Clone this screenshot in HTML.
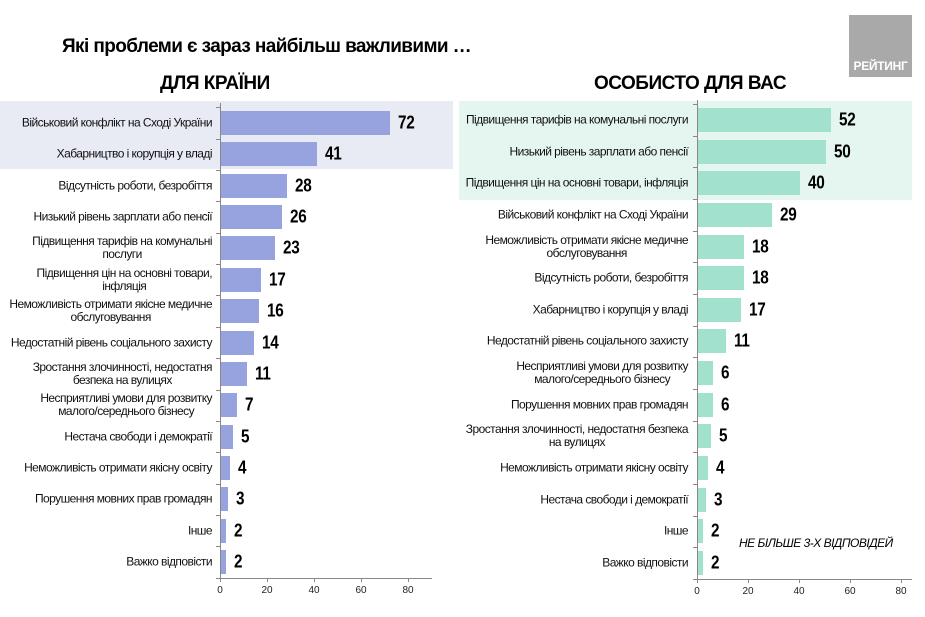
<!DOCTYPE html>
<html><head><meta charset="utf-8"><style>
body{margin:0;width:925px;height:617px;background:#fff;position:relative;overflow:hidden;font-family:"Liberation Sans",sans-serif;}
.a{position:absolute}
.lbl{position:absolute;font-size:12px;letter-spacing:-0.55px;line-height:13px;text-align:center;color:#111;white-space:nowrap;transform:translateY(-50%)}
.val{position:absolute;font-size:18px;font-weight:bold;transform:translateY(-50%) scaleX(0.85);transform-origin:left center;letter-spacing:-0.3px}
.tick{position:absolute;font-size:10px;color:#222;transform:translateX(-50%)}
</style></head><body>
<div class="a" style="left:0;top:101px;width:453px;height:68px;background:#e8eaf4"></div>
<div class="a" style="left:459px;top:101px;width:453px;height:99px;background:#e5f6f0"></div>
<div class="a" style="left:62px;top:36px;font-size:19px;font-weight:bold;letter-spacing:-0.6px">Які проблеми є зараз найбільш важливими …</div>
<div class="a" style="left:160px;top:73px;font-size:19px;font-weight:bold;letter-spacing:-0.5px">ДЛЯ КРАЇНИ</div>
<div class="a" style="left:594px;top:73px;font-size:19px;font-weight:bold;letter-spacing:-0.5px">ОСОБИСТО ДЛЯ ВАС</div>
<div class="a" style="left:849px;top:15px;width:63px;height:62px;background:#a9a9a9"></div>
<div class="a" style="left:849px;width:63px;text-align:center;top:59px;font-size:12px;font-weight:bold;color:#fff;letter-spacing:-0.3px">РЕЙТИНГ</div>
<div class="a" style="left:739px;top:536px;font-size:12px;font-style:italic;letter-spacing:-0.5px">НЕ БІЛЬШЕ 3-Х ВІДПОВІДЕЙ</div>
<div id="c"></div>
<script>
function chart(x0,ppu,y0,dy,color,labelR,axisEnd,data){
 var h='';var n=data.length;
 h+='<div class="a" style="left:'+x0+'px;top:'+(y0-dy/2-4)+'px;width:1px;height:'+(n*dy+4)+'px;background:#888"></div>';
 var axY=y0+(n-0.5)*dy;
 h+='<div class="a" style="left:'+x0+'px;top:'+axY+'px;width:'+(axisEnd-x0)+'px;height:1px;background:#888"></div>';
 for(var i=0;i<=n;i++){h+='<div class="a" style="left:'+(x0-4)+'px;top:'+(y0-dy/2+i*dy)+'px;width:4px;height:1px;background:#888"></div>';}
 for(var t=0;t<=80;t+=20){var tx=x0+t*ppu;h+='<div class="a" style="left:'+tx+'px;top:'+axY+'px;width:1px;height:4px;background:#888"></div><div class="tick" style="left:'+tx+'px;top:'+(axY+7)+'px">'+t+'</div>';}
 data.forEach(function(d,i){var cy=y0+i*dy;var w=d[1]*ppu;
  h+='<div class="a" style="left:'+(x0+1)+'px;top:'+(cy-12)+'px;width:'+w+'px;height:24px;background:'+color+'"></div>';
  h+='<div class="val" style="left:'+(x0+w+9)+'px;top:'+cy+'px">'+d[1]+'</div>';
  h+='<div class="lbl" style="right:'+(925-labelR)+'px;top:'+cy+'px">'+d[0]+'</div>';});
 return h;}
var L=[["Військовий конфлікт на Сході України",72],["Хабарництво і корупція у владі",41],["Відсутність роботи, безробіття",28],["Низький рівень зарплати або пенсії",26],["Підвищення тарифів на комунальні<br>послуги",23],["Підвищення цін на основні товари,<br>інфляція",17],["Неможливість отримати якісне медичне<br>обслуговування",16],["Недостатній рівень соціального захисту",14],["Зростання злочинності, недостатня<br>безпека на вулицях",11],["Несприятливі умови для розвитку<br>малого/середнього бізнесу",7],["Нестача свободи і демократії",5],["Неможливість отримати якісну освіту",4],["Порушення мовних прав громадян",3],["Інше",2],["Важко відповісти",2]];
var R=[["Підвищення тарифів на комунальні послуги",52],["Низький рівень зарплати або пенсії",50],["Підвищення цін на основні товари, інфляція",40],["Військовий конфлікт на Сході України",29],["Неможливість отримати якісне медичне<br>обслуговування",18],["Відсутність роботи, безробіття",18],["Хабарництво і корупція у владі",17],["Недостатній рівень соціального захисту",11],["Несприятливі умови для розвитку<br>малого/середнього бізнесу",6],["Порушення мовних прав громадян",6],["Зростання злочинності, недостатня безпека<br>на вулицях",5],["Неможливість отримати якісну освіту",4],["Нестача свободи і демократії",3],["Інше",2],["Важко відповісти",2]];
document.getElementById('c').innerHTML=chart(220,2.35,123,31.36,'#97a3de',212,432,L)+chart(697,2.55,120,31.64,'#a2e1cd',688,912,R);
</script>
</body></html>
